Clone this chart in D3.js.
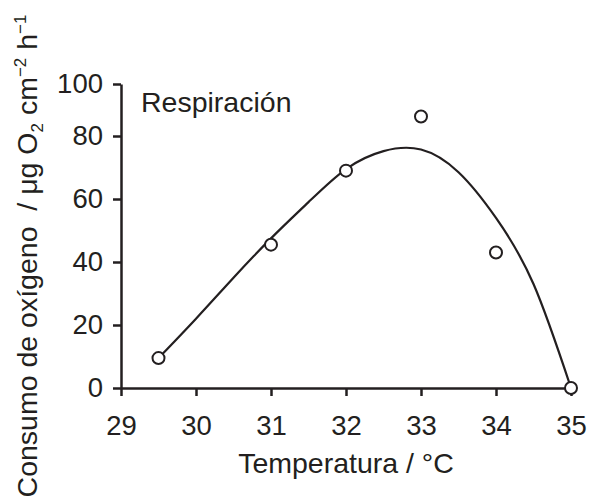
<!DOCTYPE html>
<html>
<head>
<meta charset="utf-8">
<script src="https://cdn.jsdelivr.net/npm/d3@7"></script>
<style>
  body { margin: 0; background: #fff; }
  text { font-family: "Liberation Sans", Arial, sans-serif; fill: #231f20; }
</style>
</head>
<body>
<svg id="chart" width="598" height="502"></svg>
<script>
"use strict";
// measured points
const temps = [29.5, 31, 32, 33, 34, 35];
const oxygen = [9.5, 45.5, 69, 87.5, 43, 0];
// fitted curve
const fitTemps = [29.5, 30, 30.5, 31, 31.5, 32, 32.5, 33, 33.5, 34, 34.5, 35];
const fitOxygen = [9.5, 22, 35, 47.5, 59, 69.5, 75.2, 75.7, 68.5, 54, 33, 0];
const xTicks = [29, 30, 31, 32, 33, 34, 35];
const yTicks = [0, 20, 40, 60, 80, 100];

const ink = '#231f20';
const svg = d3.select('#chart');

const x = d3.scaleLinear().domain([29, 35]).range([121, 571]);
// top of the axis is compressed in the original drawing
const y = d3.scaleLinear().domain([0, 80, 100]).range([388, 136, 84]);

//axes
const xAxis = svg.append('g')
  .attr('transform', `translate(0,${y(0)})`)
  .call(d3.axisBottom(x).tickValues(xTicks).tickSize(8).tickSizeOuter(0).tickPadding(19).tickFormat(d3.format('d')));
const yAxis = svg.append('g')
  .attr('transform', `translate(${x(29)},0)`)
  .call(d3.axisLeft(y).tickValues(yTicks).tickSize(8).tickSizeOuter(0).tickPadding(10));

[xAxis, yAxis].forEach(g => {
  g.selectAll('path, line').attr('stroke', ink).attr('stroke-width', 2.5);
  g.selectAll('text').attr('fill', ink).style('font-size', '27.5px')
    .style('font-family', '"Liberation Sans", Arial, sans-serif');
});

//fitted curve
const fit = fitTemps.map((t, i) => [t, fitOxygen[i]]);
svg.append('path')
  .datum(fit)
  .attr('fill', 'none')
  .attr('stroke', ink)
  .attr('stroke-width', 2.2)
  .attr('d', d3.line().x(d => x(d[0])).y(d => y(d[1])).curve(d3.curveNatural));

//open circles
svg.selectAll('circle.pt')
  .data(temps.map((t, i) => [t, oxygen[i]]))
  .enter()
  .append('circle')
  .attr('class', 'pt')
  .attr('cx', d => x(d[0]))
  .attr('cy', d => y(d[1]))
  .attr('r', 6)
  .attr('fill', '#fff')
  .attr('stroke', ink)
  .attr('stroke-width', 2);

svg.append('text')
  .attr('x', 141)
  .attr('y', 112)
  .style('font-size', '28.5px')
  .text('Respiración');

svg.append('text')
  .attr('x', 346)
  .attr('y', 473)
  .attr('text-anchor', 'middle')
  .style('font-size', '28.5px')
  .text('Temperatura / °C');

const yTitle = svg.append('text')
  .attr('transform', 'translate(37,256) rotate(-90)')
  .attr('text-anchor', 'middle')
  .style('font-size', '28.5px')
  .style('white-space', 'pre');
yTitle.append('tspan').text('Consumo de oxígeno  / μg O');
yTitle.append('tspan').attr('dy', 6).style('font-size', '17px').text('2');
yTitle.append('tspan').attr('dy', -6).text(' cm');
yTitle.append('tspan').attr('dy', -11).style('font-size', '17px').text('−2');
yTitle.append('tspan').attr('dy', 11).text(' h');
yTitle.append('tspan').attr('dy', -11).style('font-size', '17px').text('−1');
</script>
</body>
</html>
